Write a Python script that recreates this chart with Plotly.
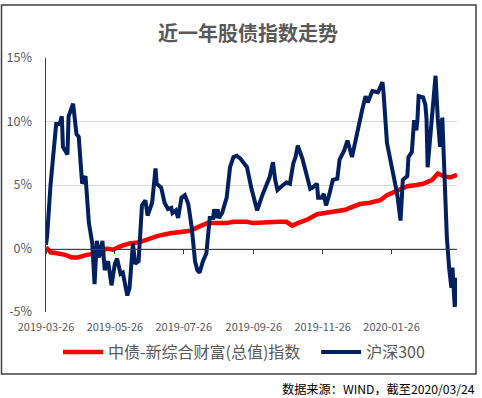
import plotly.graph_objects as go

# 沪深300 (cumulative return, %)
hs300_dates = [
    "2019-03-26", "2019-03-27", "2019-03-30", "2019-04-01", "2019-04-04", "2019-04-07", "2019-04-09", "2019-04-10",
    "2019-04-14", "2019-04-15", "2019-04-19", "2019-04-22", "2019-04-24", "2019-04-27", "2019-04-30", "2019-05-03",
    "2019-05-06", "2019-05-08", "2019-05-10", "2019-05-12", "2019-05-15", "2019-05-17", "2019-05-20", "2019-05-23",
    "2019-05-26", "2019-05-28", "2019-05-31", "2019-06-02", "2019-06-06", "2019-06-08", "2019-06-11", "2019-06-13",
    "2019-06-16", "2019-06-19", "2019-06-22", "2019-06-24", "2019-06-28", "2019-07-01", "2019-07-02", "2019-07-06",
    "2019-07-09", "2019-07-12", "2019-07-15", "2019-07-16", "2019-07-19", "2019-07-21", "2019-07-24", "2019-07-27",
    "2019-07-30", "2019-08-02", "2019-08-05", "2019-08-07", "2019-08-09", "2019-08-12", "2019-08-15", "2019-08-18",
    "2019-08-21", "2019-08-22", "2019-08-24", "2019-08-25", "2019-08-26", "2019-08-29", "2019-09-01", "2019-09-02",
    "2019-09-05", "2019-09-08", "2019-09-11", "2019-09-14", "2019-09-20", "2019-09-24", "2019-09-29", "2019-10-04",
    "2019-10-10", "2019-10-13", "2019-10-15", "2019-10-17", "2019-10-22", "2019-10-25", "2019-10-28", "2019-10-31",
    "2019-11-02", "2019-11-04", "2019-11-08", "2019-11-12", "2019-11-15", "2019-11-17", "2019-11-21", "2019-11-22",
    "2019-11-25", "2019-11-27", "2019-11-29", "2019-12-02", "2019-12-05", "2019-12-09", "2019-12-11", "2019-12-15",
    "2019-12-18", "2019-12-22", "2019-12-25", "2019-12-27", "2019-12-31", "2020-01-03", "2020-01-05", "2020-01-09",
    "2020-01-14", "2020-01-18", "2020-01-19", "2020-01-22", "2020-01-26", "2020-01-31", "2020-02-03", "2020-02-05",
    "2020-02-09", "2020-02-10", "2020-02-13", "2020-02-15", "2020-02-17", "2020-02-18", "2020-02-19", "2020-02-23",
    "2020-02-25", "2020-02-26", "2020-02-27", "2020-02-29", "2020-03-03", "2020-03-05", "2020-03-07", "2020-03-09",
    "2020-03-11", "2020-03-13", "2020-03-15", "2020-03-17", "2020-03-19", "2020-03-20", "2020-03-21", "2020-03-22",
    "2020-03-24",
]
hs300_values = [
    0.3, 1.0, 5.0, 7.3, 9.8, 9.8, 10.4, 8.0,
    7.4, 10.4, 11.4, 9.0, 8.8, 5.1, 5.7, 2.0,
    0.4, -2.8, 0.6, -0.7, 0.6, -1.7, -1.0, -2.9,
    -1.2, -0.8, -2.0, -1.9, -3.7, -3.1, 0.4, -1.2,
    -1.0, 3.4, 3.8, 2.6, 3.6, 6.3, 5.1, 4.8,
    3.6, 3.1, 3.2, 2.8, 3.0, 2.4, 4.0, 4.2,
    3.5, 1.7, -1.0, -1.7, -1.9, -1.0, -0.4, 2.4,
    2.4, 3.1, 2.4, 3.1, 2.4, 2.8, 3.8, 4.0,
    6.4, 7.2, 7.3, 7.1, 6.4, 4.7, 3.0, 4.3,
    5.6, 6.8, 5.4, 4.6, 5.0, 5.2, 5.1, 6.7,
    7.2, 8.1, 7.1, 5.6, 4.7, 4.8, 5.1, 4.0,
    4.0, 4.3, 3.4, 4.3, 5.4, 5.5, 7.0, 7.7,
    8.5, 7.2, 8.5, 9.1, 10.9, 12.0, 11.5, 12.4,
    12.3, 13.1, 12.2, 8.3, 6.4, 4.3, 2.2, 5.4,
    5.7, 7.2, 7.6, 10.1, 9.3, 10.2, 12.0, 11.9,
    11.3, 10.2, 6.4, 8.5, 11.4, 13.6, 10.2, 8.0,
    10.3, 5.6, 0.9, -1.5, -3.1, -1.5, -3.1, -4.6,
    -2.3,
]

# 中债-新综合财富(总值)指数 (cumulative return, %)
bond_dates = [
    "2019-03-26", "2019-03-30", "2019-04-06", "2019-04-12", "2019-04-18", "2019-04-23", "2019-05-01", "2019-05-10",
    "2019-05-19", "2019-05-24", "2019-06-01", "2019-06-08", "2019-06-17", "2019-06-26", "2019-07-03", "2019-07-14",
    "2019-07-23", "2019-08-01", "2019-08-08", "2019-08-16", "2019-08-25", "2019-09-02", "2019-09-08", "2019-09-20",
    "2019-09-25", "2019-10-08", "2019-10-19", "2019-10-25", "2019-10-30", "2019-11-04", "2019-11-13", "2019-11-21",
    "2019-11-30", "2019-12-09", "2019-12-16", "2019-12-20", "2019-12-29", "2020-01-07", "2020-01-16", "2020-01-22",
    "2020-01-27", "2020-02-02", "2020-02-09", "2020-02-17", "2020-02-23", "2020-03-02", "2020-03-07", "2020-03-12",
    "2020-03-18", "2020-03-24",
]
bond_values = [
    0.1, -0.3, -0.4, -0.5, -0.7, -0.7, -0.5, -0.4,
    0.0, -0.1, 0.2, 0.4, 0.5, 0.8, 1.0, 1.2,
    1.3, 1.4, 1.7, 2.0, 2.0, 2.0, 2.1, 2.1,
    2.0, 2.1, 2.1, 2.1, 1.8, 2.0, 2.3, 2.7,
    2.8, 2.9, 3.05, 3.2, 3.5, 3.6, 3.8, 4.2,
    4.4, 4.7, 4.9, 5.0, 5.1, 5.4, 5.9, 5.7,
    5.6, 5.8,
]

x_tick_vals = ["2019-03-26", "2019-05-26", "2019-07-26", "2019-09-26", "2019-11-26", "2020-01-26"]
y_tick_vals = [-5, 0, 5, 10, 15]
y_tick_text = ["-5%", "0%", "5%", "10%", "15%"]

title_text = "近一年股债指数走势"
bond_name = "中债-新综合财富(总值)指数"
hs_name = "沪深300"
source_text = "数据来源：WIND，截至2020/03/24"

W, H = 482, 398
L, R, T, B = 46, 25, 58, 86
pw, ph = W - L - R, H - T - B

def px_x(p):
    return (p - L) / pw

def px_y(p):
    return (H - B - p) / ph

FONT = "Noto Sans CJK SC, Microsoft YaHei, sans-serif"
GRAY = "#595959"

fig = go.Figure()
fig.add_trace(go.Scatter(
    x=bond_dates, y=bond_values, mode="lines", name=bond_name + "\u00a0\u00a0\u00a0",
    line=dict(color="#FF0000", width=4.5), hoverinfo="skip",
))
fig.add_trace(go.Scatter(
    x=hs300_dates, y=hs300_values, mode="lines", name=hs_name,
    line=dict(color="#002060", width=4), hoverinfo="skip",
))
# invisible helper trace so the zero-line tick axis is drawn
fig.add_trace(go.Scatter(
    x=hs300_dates, y=hs300_values, mode="lines", xaxis="x2",
    line=dict(width=0, color="rgba(0,0,0,0)"), showlegend=False, hoverinfo="skip",
))

xrange = ["2019-03-26", "2020-03-24"]
fig.update_layout(
    width=W, height=H,
    margin=dict(l=L, r=R, t=T, b=B, autoexpand=False),
    paper_bgcolor="white", plot_bgcolor="white",
    font=dict(family=FONT, color=GRAY),
    showlegend=True,
    legend=dict(
        orientation="h", xref="container", yref="container",
        x=244 / W, xanchor="center", y=1 - 352 / H, yanchor="middle",
        font=dict(size=16, color=GRAY, family=FONT), bgcolor="rgba(0,0,0,0)",
        itemwidth=40, tracegroupgap=0,
    ),
    xaxis=dict(
        type="date", range=xrange, tickvals=x_tick_vals, tickformat="%Y-%m-%d",
        showgrid=False, showline=False, zeroline=False, ticks="", automargin=False,
        tickfont=dict(size=11, color=GRAY, family=FONT), ticklabelstandoff=7,
    ),
    xaxis2=dict(
        type="date", range=xrange, overlaying="x", anchor="free",
        position=(0 - (-5)) / 20, side="bottom", automargin=False,
        tickvals=x_tick_vals, showticklabels=False, ticks="outside", ticklen=4,
        tickcolor="#404040", tickwidth=1,
        showline=True, linecolor="#404040", linewidth=1.5, showgrid=False, zeroline=False,
    ),
    yaxis=dict(
        range=[-5, 15], tickvals=y_tick_vals, ticktext=y_tick_text,
        showgrid=True, gridcolor="#D9D9D9", gridwidth=1, automargin=False,
        showline=True, linecolor="#404040", linewidth=1.5, zeroline=False,
        ticks="", ticklabelstandoff=10,
        tickfont=dict(size=12.5, color=GRAY, family=FONT),
    ),
    annotations=[
        dict(text="<b>" + title_text + "</b>", xref="paper", yref="paper",
             x=px_x(248), y=px_y(33), xanchor="center", yanchor="middle",
             showarrow=False, font=dict(size=20, color=GRAY, family=FONT)),
        dict(text=source_text, xref="paper", yref="paper",
             x=px_x(477), y=px_y(389), xanchor="right", yanchor="middle",
             showarrow=False, font=dict(size=12.2, color="#000000", family=FONT)),
    ],
    shapes=[
        dict(type="rect", xref="paper", yref="paper",
             x0=px_x(1.5), x1=px_x(476), y0=px_y(374), y1=px_y(5),
             line=dict(color="#404040", width=1.5), fillcolor="rgba(0,0,0,0)", layer="below"),
    ],
)

fig.write_html(
    "out.html",
    config={"displayModeBar": False, "staticPlot": True},
    post_script="document.body.style.margin='0';document.body.style.padding='0';",
)
